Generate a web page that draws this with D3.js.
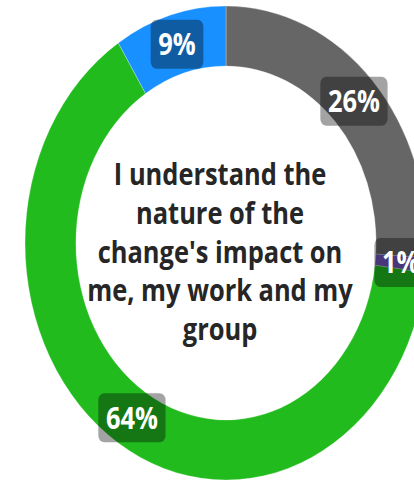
<!DOCTYPE html>
<html>
<head>
<meta charset="utf-8">
<script src="https://cdn.jsdelivr.net/npm/d3@7"></script>
<style>
html,body{margin:0;padding:0;background:#fff;}
svg{display:block;}
</style>
</head>
<body>
<svg id="chart" width="414" height="482"></svg>
<script>
const categories = ["Neutral", "Disagree", "Agree", "Strongly agree"];
const values = [26, 1, 64, 9];
const labels = ["26%", "1%", "64%", "9%"];
const colors = ["#666666", "#6f57bc", "#22bb1e", "#1890ff"];
const centerLines = ["I understand the", "nature of the", "change's impact on", "me, my work and my", "group"];

const W = 414, H = 482;
const cx = 226, cy = 243;
const sx = 0.848;
const rOuter = 237, rInner = 177, rLabel = 207;

const svg = d3.select("#chart");
const g = svg.append("g").attr("transform", `translate(${cx},${cy}) scale(${sx},1)`);

const pie = d3.pie().sort(null).value(d => d)(values);
const arc = d3.arc().innerRadius(rInner).outerRadius(rOuter);
const labelArc = d3.arc().innerRadius(rLabel).outerRadius(rLabel);

g.selectAll("path.slice").data(pie).join("path")
  .attr("class", "slice")
  .attr("d", arc)
  .attr("fill", (d, i) => colors[i])
  .attr("stroke", "#ffffff")
  .attr("stroke-width", 0.3);

// center text
const ct = g.append("text")
  .attr("text-anchor", "middle")
  .attr("font-family", "'Open Sans', 'Noto Sans', sans-serif")
  .attr("font-weight", 700)
  .attr("font-size", 30)
  .attr("fill", "#262626");
const lh = 38.8;
const y0 = 185 - cy;
centerLines.forEach((t, i) => {
  ct.append("tspan").attr("x", (220 - cx) / sx).attr("y", y0 + i * lh).text(t);
});

// labels
const lg = g.selectAll("g.lbl").data(pie).join("g")
  .attr("class", "lbl")
  .attr("transform", d => `translate(${labelArc.centroid(d)})`);
lg.each(function(d, i) {
  const sel = d3.select(this);
  const rect = sel.append("rect").attr("fill", "rgba(0,0,0,0.36)").attr("rx", 7).attr("ry", 7);
  const t = sel.append("text")
    .attr("text-anchor", "middle")
    .attr("dy", "0.36em")
    .attr("font-family", "'Open Sans', 'Noto Sans', sans-serif")
    .attr("font-weight", 700)
    .attr("font-size", 30)
    .attr("fill", "#ffffff")
    .text(labels[i]);
  const bb = t.node().getBBox();
  const pw = 9, h = 49;
  rect.attr("x", bb.x - pw).attr("y", -h / 2).attr("width", bb.width + 2 * pw).attr("height", h);
});
</script>
</body>
</html>
